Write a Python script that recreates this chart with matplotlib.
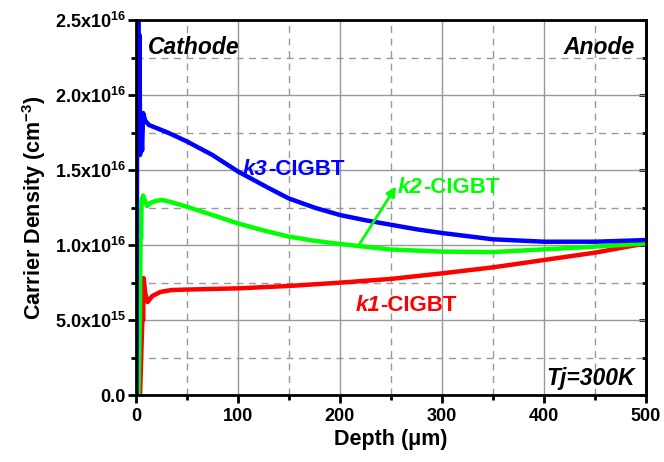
import numpy as np
import matplotlib.pyplot as plt
from matplotlib.ticker import MultipleLocator, FixedLocator, FixedFormatter, NullFormatter

plt.rcParams['font.family'] = ['Liberation Sans', 'DejaVu Sans']
plt.rcParams['font.weight'] = 'bold'
plt.rcParams['mathtext.fontset'] = 'custom'
plt.rcParams['mathtext.rm'] = 'Liberation Sans:bold'
plt.rcParams['mathtext.bf'] = 'Liberation Sans:bold'
plt.rcParams['mathtext.it'] = 'Liberation Sans:bold:italic'
plt.rcParams['mathtext.default'] = 'bf'

# carrier density profiles (x in um, n in 1e15 cm^-3)
x_k3 = [0.5, 1.5, 2.5, 3.0, 3.5, 4.0, 5.0, 6.0, 7.0, 9.0, 12.7, 20, 32, 50, 75, 100, 130, 150, 176, 200,
        225, 250, 275, 300, 350, 400, 450, 500]
n_k3 = [0.0, 30.0, 26.0, 20.0, 24.0, 16.0, 18.0, 16.3, 18.8, 18.3, 18.0, 17.8, 17.47, 16.9, 16.0, 14.9, 13.8,
        13.1, 12.47, 12.0, 11.65, 11.35, 11.05, 10.8, 10.38, 10.22, 10.22, 10.33]

x_k2 = [2.5, 4.0, 4.5, 5.0, 5.5, 7.0, 8.5, 11, 14, 20, 26, 35, 50, 75, 100, 125, 150, 175, 200, 250,
        300, 350, 400, 450, 500]
n_k2 = [0.0, 6.0, 11.0, 10.5, 13.0, 13.3, 13.0, 12.6, 12.8, 12.95, 13.0, 12.85, 12.55, 12.0, 11.44, 10.97,
        10.56, 10.28, 10.07, 9.7, 9.56, 9.53, 9.71, 9.89, 10.11]

x_k1 = [4.0, 6.0, 6.5, 7.0, 7.5, 9.0, 11.5, 16, 24, 35, 50, 100, 150, 200, 250, 300, 350, 400, 450, 500]
n_k1 = [0.0, 4.5, 5.5, 5.0, 7.8, 6.8, 6.2, 6.6, 6.87, 7.0, 7.03, 7.11, 7.27, 7.49, 7.74, 8.11, 8.51, 9.0,
        9.49, 10.11]

ytick_vals = [0, 5e15, 1e16, 1.5e16, 2e16, 2.5e16]
ytick_labels = ['0.0', '5.0x10$^{15}$', '1.0x10$^{16}$', '1.5x10$^{16}$', '2.0x10$^{16}$', '2.5x10$^{16}$']

fig = plt.figure(figsize=(6.64, 4.62), dpi=100)
ax = fig.add_axes([0.2048, 0.145, 0.768, 0.8117])

ax.plot(x_k1, np.array(n_k1) * 1e15, color='#ff0000', lw=3.2)
ax.plot(x_k2, np.array(n_k2) * 1e15, color='#00ff00', lw=3.2)
ax.plot(x_k3, np.array(n_k3) * 1e15, color='#0000ff', lw=3.2)

ax.set_xlim(0, 500)
ax.set_ylim(0, 2.5e16)
ax.xaxis.set_major_locator(MultipleLocator(100))
ax.xaxis.set_minor_locator(MultipleLocator(50))
ax.yaxis.set_major_locator(FixedLocator(ytick_vals))
ax.yaxis.set_major_formatter(FixedFormatter(ytick_labels))
ax.yaxis.set_minor_locator(MultipleLocator(2.5e15))

ax.grid(which='major', color='#999999', lw=1.0, ls='-')
ax.grid(which='minor', color='#999999', lw=1.0, ls=(0, (5, 4)))
ax.set_axisbelow(True)

for s in ax.spines.values():
    s.set_linewidth(2.0)
ax.tick_params(which='both', direction='out', width=2.0, labelsize=13, pad=3)
ax.tick_params(axis='y', which='both', pad=1.5)
ax.tick_params(which='major', length=6)
ax.tick_params(which='minor', length=3.5)

# mirrored ticks on the right side, pointing in
sec = ax.secondary_yaxis('right')
sec.yaxis.set_major_locator(FixedLocator(ytick_vals))
sec.yaxis.set_minor_locator(MultipleLocator(2.5e15))
sec.yaxis.set_major_formatter(NullFormatter())
sec.tick_params(which='both', direction='in', width=2.0)
sec.tick_params(which='major', length=5)
sec.tick_params(which='minor', length=3)
sec.spines['right'].set_linewidth(2.0)

ax.set_xlabel('Depth (μm)', fontsize=15.5, fontweight='bold', labelpad=3)
ax.set_ylabel('Carrier Density (cm$^{-3}$)', fontsize=15.5, fontweight='bold', labelpad=5)

ax.text(0.0235, 0.957, 'Cathode', transform=ax.transAxes, fontsize=16.5,
        fontweight='bold', style='italic', va='top', ha='left')
ax.text(0.978, 0.957, 'Anode', transform=ax.transAxes, fontsize=16.5,
        fontweight='bold', style='italic', va='top', ha='right')
ax.text(0.978, 0.027, 'Tj=300K', transform=ax.transAxes, fontsize=16.5,
        fontweight='bold', style='italic', va='baseline', ha='right')


def label(x, y, k, color):
    t = ax.text(x, y, k, color=color, fontsize=16, fontweight='bold', style='italic',
                ha='left', va='baseline')
    ax.annotate('-CIGBT', xy=(1, 0), xycoords=t, color=color, fontsize=16,
                fontweight='bold', ha='left', va='bottom')


label(105, 1.47e16, 'k3', '#0000ff')
label(257, 1.35e16, 'k2', '#00ff00')
label(215, 5.6e15, 'k1', '#ff0000')

ax.annotate('', xy=(255, 1.39e16), xytext=(219, 1.005e16),
            arrowprops=dict(arrowstyle='-|>', color='#00ff00', lw=2, mutation_scale=14,
                            shrinkA=0, shrinkB=0))

fig.savefig('out.png', dpi=100)
